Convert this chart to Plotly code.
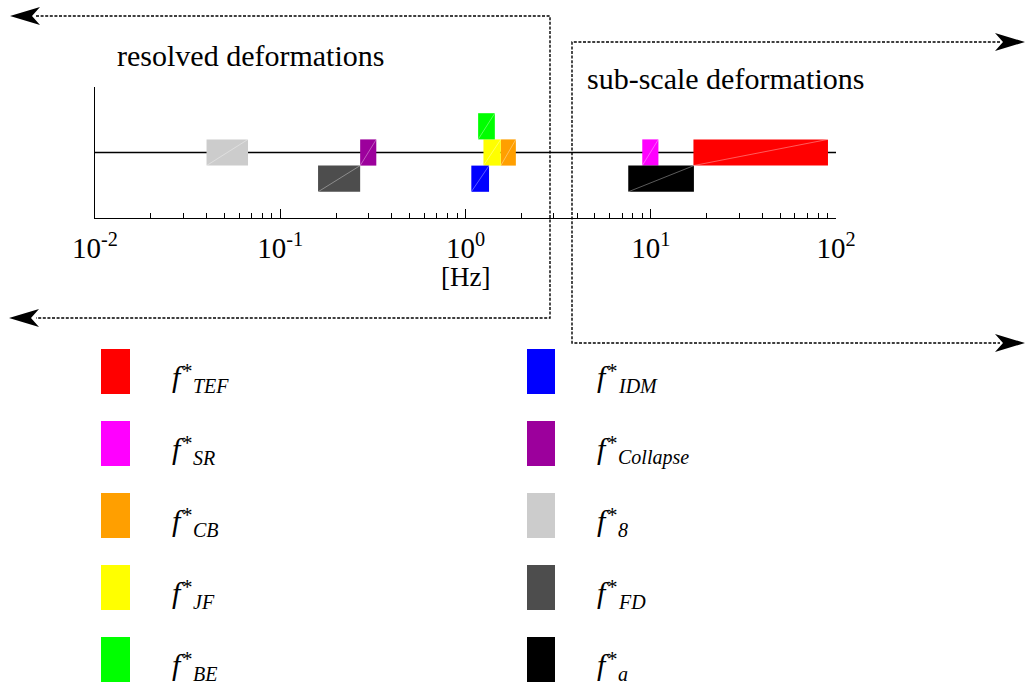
import plotly.graph_objects as go

# Frequency bands of the deformation processes (Hz), one row per band
band_names = ["TEF", "SR", "CB", "JF", "BE", "IDM", "Collapse", "8", "FD", "a"]
band_colors = ["#ff0000", "#ff00ff", "#ff9f00", "#ffff00", "#00ff00",
               "#0000ff", "#9c009c", "#cccccc", "#4d4d4d", "#000000"]
f_low = [17.0, 9.0, 1.55, 1.25, 1.17, 1.075, 0.27, 0.04, 0.16, 7.56]
f_high = [90.5, 11.0, 1.87, 1.55, 1.44, 1.34, 0.33, 0.067, 0.27, 17.1]
row_level = [0, 0, 0, 0, 1, -1, 0, 0, -1, -1]

major_ticks = [0.01, 0.1, 1, 10, 100]
major_labels = ["10<sup>-2</sup>", "10<sup>-1</sup>", "10<sup>0</sup>",
                "10<sup>1</sup>", "10<sup>2</sup>"]
minor_ticks = [m * d for d in (0.01, 0.1, 1, 10) for m in range(2, 10)]

# legend order: left column then right column
legend_left = ["TEF", "SR", "CB", "JF", "BE"]
legend_right = ["IDM", "Collapse", "8", "FD", "a"]

W, H = 1026, 686
FONT = "Liberation Serif"

fig = go.Figure()

# band rectangles
for name, col, lo, hi, lev in zip(band_names, band_colors, f_low, f_high, row_level):
    fig.add_trace(go.Scatter(
        x=[lo, hi, hi, lo, lo],
        y=[lev - 0.5, lev - 0.5, lev + 0.5, lev + 0.5, lev - 0.5],
        fill="toself", fillcolor=col, mode="lines",
        line=dict(width=0, color=col), hoverinfo="skip", showlegend=False,
        xaxis="x", yaxis="y"))
    # faint seam across each filled box
    fig.add_trace(go.Scatter(
        x=[lo, hi], y=[lev - 0.5, lev + 0.5], mode="lines",
        line=dict(width=0.8, color="rgba(255,255,255,0.45)"),
        hoverinfo="skip", showlegend=False, xaxis="x", yaxis="y"))

shapes = []
# central frequency line
shapes.append(dict(type="line", xref="x domain", yref="y", x0=0, x1=1, y0=0, y1=0,
                   line=dict(color="black", width=1.4), layer="below"))

# dotted range brackets with arrow heads (pixel coordinates on overlay axes)
dotted = dict(color="black", width=1.4, dash="3px,1.6px")
shapes.append(dict(type="path", xref="x2", yref="y2",
                   path="M 36,16 L 550,16 L 550,318 L 36,318",
                   line=dotted, fillcolor="rgba(0,0,0,0)"))
shapes.append(dict(type="path", xref="x2", yref="y2",
                   path="M 1000,42 L 572,42 L 572,343 L 1000,343",
                   line=dotted, fillcolor="rgba(0,0,0,0)"))


def arrow(tx, ty, direction):
    L, h, n = 30, 9, 8
    bx = tx - direction * L
    nx = tx - direction * (L - n)
    return dict(type="path", xref="x2", yref="y2",
                path=f"M {tx},{ty} L {bx},{ty - h} L {nx},{ty} L {bx},{ty + h} Z",
                fillcolor="black", line=dict(width=0))


shapes += [arrow(10, 16, -1), arrow(9, 318, -1), arrow(1025, 42, 1), arrow(1025, 343, 1)]

annotations = []
# legend swatches and labels: f, raised star, then the subscript
col_info = [(legend_left, 101, 130, 171), (legend_right, 527, 555, 596)]
for names, sx0, sx1, fx in col_info:
    for i, name in enumerate(names):
        col = band_colors[band_names.index(name)]
        y0 = 349 + 72 * i
        yc = y0 + 22.5
        shapes.append(dict(type="rect", xref="x2", yref="y2", x0=sx0, x1=sx1,
                           y0=y0, y1=y0 + 45, fillcolor=col, line=dict(width=0)))
        annotations.append(dict(xref="x2", yref="y2", x=fx, y=yc + 22,
                                text="<i>f</i>", showarrow=False,
                                xanchor="left", yanchor="bottom", borderpad=0,
                                font=dict(family=FONT, size=30, color="black")))
        annotations.append(dict(xref="x2", yref="y2", x=fx + 10, y=yc + 12,
                                text="*", showarrow=False,
                                xanchor="left", yanchor="bottom", borderpad=0,
                                font=dict(family=FONT, size=21, color="black")))
        annotations.append(dict(xref="x2", yref="y2", x=fx + 21, y=yc + 26,
                                text=f"<i>{name}</i>", showarrow=False,
                                xanchor="left", yanchor="bottom", borderpad=0,
                                font=dict(family=FONT, size=20, color="black")))

# region captions and axis unit
annotations.append(dict(xref="x2", yref="y2", x=115, y=55, text="resolved deformations",
                        showarrow=False, xanchor="left", yanchor="middle",
                        font=dict(family=FONT, size=30, color="black")))
annotations.append(dict(xref="x2", yref="y2", x=585, y=78, text="sub-scale deformations",
                        showarrow=False, xanchor="left", yanchor="middle",
                        font=dict(family=FONT, size=30, color="black")))
annotations.append(dict(xref="x2", yref="y2", x=465.5, y=277, text="[Hz]",
                        showarrow=False, xanchor="center", yanchor="middle",
                        font=dict(family=FONT, size=27, color="black")))

fig.update_layout(
    width=W, height=H,
    margin=dict(l=0, r=0, t=0, b=0, pad=0, autoexpand=False),
    paper_bgcolor="white", plot_bgcolor="rgba(0,0,0,0)",
    showlegend=False,
    xaxis=dict(type="log", range=[-2, 2], domain=[95 / W, 836 / W], anchor="y",
               automargin=False,
               showline=True, linecolor="black", linewidth=1.4,
               ticks="inside", ticklen=9, tickwidth=1.2, tickcolor="black",
               tickvals=major_ticks, ticktext=major_labels,
               tickfont=dict(family=FONT, size=29, color="black"),
               ticklabelstandoff=4,
               minor=dict(tickvals=minor_ticks, ticks="inside", ticklen=5,
                          tickwidth=1, tickcolor="black", showgrid=False),
               showgrid=False, zeroline=False),
    yaxis=dict(range=[-2.5, 2.5], domain=[1 - 218 / H, 1 - 87 / H], anchor="x",
               automargin=False,
               showline=True, linecolor="black", linewidth=1.4,
               showticklabels=False, ticks="", showgrid=False, zeroline=False),
    xaxis2=dict(range=[0, W], domain=[0, 1], anchor="y2", visible=False,
                automargin=False, showgrid=False, zeroline=False),
    yaxis2=dict(range=[H, 0], domain=[0, 1], anchor="x2", visible=False,
                automargin=False, showgrid=False, zeroline=False),
    shapes=shapes,
    annotations=annotations,
)

fig.write_html("out.html")
